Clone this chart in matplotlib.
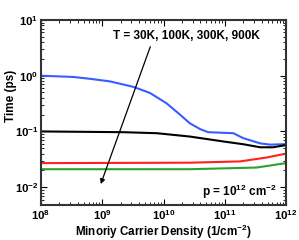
import numpy as np
import matplotlib
matplotlib.use("Agg")
import matplotlib.pyplot as plt
from matplotlib.ticker import LogLocator, NullFormatter

plt.rcParams['font.family'] = ['Liberation Sans', 'DejaVu Sans']
plt.rcParams['mathtext.fontset'] = 'custom'
plt.rcParams['mathtext.rm'] = 'Liberation Sans:bold'
plt.rcParams['mathtext.it'] = 'Liberation Sans:bold'
plt.rcParams['mathtext.bf'] = 'Liberation Sans:bold'
plt.rcParams['mathtext.default'] = 'bf'

# data: log10 of minority carrier density, time in ps
blue_logx = [8.0, 8.53, 8.80, 9.13, 9.51, 9.78, 10.05, 10.27, 10.43, 10.60, 10.73,
             11.14, 11.30, 11.58, 11.74, 11.96, 12.0]
blue_y = [1.0, 0.95, 0.88, 0.79, 0.63, 0.49, 0.32, 0.20, 0.14, 0.11, 0.097,
          0.093, 0.076, 0.061, 0.058, 0.059, 0.059]
black_logx = [8.0, 9.34, 9.89, 10.43, 10.98, 11.30, 11.58, 11.79, 12.0]
black_y = [0.10, 0.097, 0.093, 0.081, 0.066, 0.059, 0.052, 0.052, 0.057]
red_logx = [8.0, 10.43, 11.25, 11.68, 12.0]
red_y = [0.027, 0.0275, 0.029, 0.034, 0.040]
green_logx = [8.0, 10.43, 11.52, 12.0]
green_y = [0.021, 0.021, 0.0225, 0.027]

x_ticks = [1e8, 1e9, 1e10, 1e11, 1e12]
x_ticklabels = [r'$10^{8}$', r'$10^{9}$', r'$10^{10}$', r'$10^{11}$', r'$10^{12}$']
y_ticks = [1e-2, 1e-1, 1e0, 1e1]
y_ticklabels = [r'$10^{-2}$', r'$10^{-1}$', r'$10^{0}$', r'$10^{1}$']

fig = plt.figure(figsize=(2.99, 2.40), dpi=100)
ax = fig.add_axes([41/299, 1-205/240, 245/299, 185/240])

for lx, y, c in [(blue_logx, blue_y, '#3a5cff'), (black_logx, black_y, 'black'),
                 (red_logx, red_y, '#ff2020'), (green_logx, green_y, '#2ea02e')]:
    ax.plot(10**np.array(lx), y, color=c, lw=1.5, solid_joinstyle='round')

ax.set_xscale('log')
ax.set_yscale('log')
ax.set_xlim(1e8, 1e12)
ax.set_ylim(10**-2.32, 10)

ax.set_xticks(x_ticks)
ax.set_xticklabels(x_ticklabels)
ax.set_yticks(y_ticks)
ax.set_yticklabels(y_ticklabels)
ax.xaxis.set_minor_locator(LogLocator(base=10, subs=np.arange(2, 10), numticks=20))
ax.yaxis.set_minor_locator(LogLocator(base=10, subs=np.arange(2, 10), numticks=20))
ax.xaxis.set_minor_formatter(NullFormatter())
ax.yaxis.set_minor_formatter(NullFormatter())
ax.tick_params(which='both', direction='in', top=True, right=True, labelsize=8.2)
ax.tick_params(axis='x', pad=2.5)
ax.tick_params(axis='y', pad=2)
ax.tick_params(which='major', length=4, width=0.8)
ax.tick_params(which='minor', length=2, width=0.6)
for s in ax.spines.values():
    s.set_linewidth(1.5)
    s.set_color('#333333')

ax.set_xlabel(r'Minoriy Carrier Density (1/cm$^{-2}$)', fontsize=8.4, fontweight='bold')
ax.set_ylabel('Time (ps)', fontsize=8.5, fontweight='bold')
ax.xaxis.set_label_coords(0.5, -0.146)
ax.xaxis.label.set_va('center')
ax.yaxis.set_label_coords(-0.122, 0.59)
ax.yaxis.label.set_va('center')

ax.annotate('', xy=(10**8.96, 0.0102), xytext=(10**9.80, 3.7),
            arrowprops=dict(arrowstyle='-|>', color='black', lw=0.9, mutation_scale=7))
ax.text(10**9.18, 5.2, 'T = 30K, 100K, 300K, 900K', fontsize=8.5, fontweight='bold',
        ha='left', va='center')
ax.text(10**11.85, 10**-2.09, r'p = 10$^{12}$ cm$^{-2}$', fontsize=8.5,
        fontweight='bold', ha='right', va='center')

fig.savefig('out.png', dpi=100)
